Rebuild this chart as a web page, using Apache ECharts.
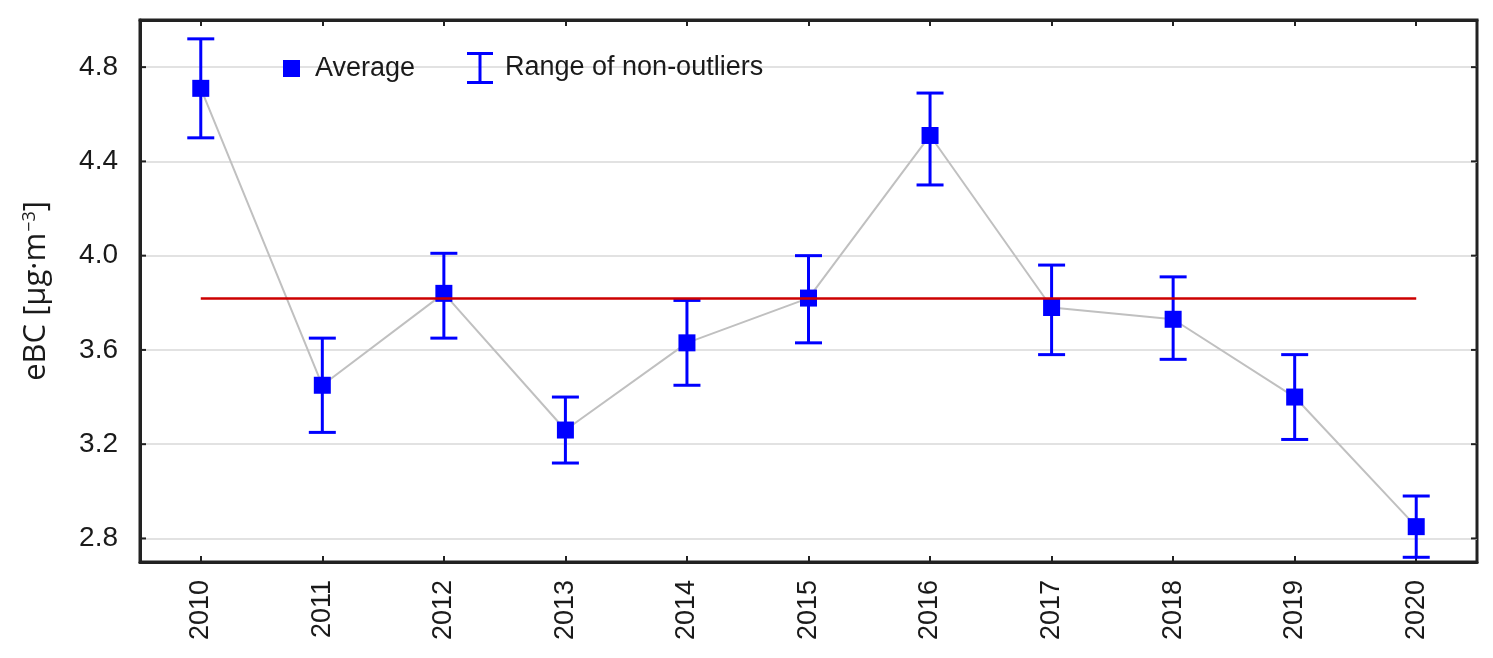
<!DOCTYPE html>
<html>
<head>
<meta charset="utf-8">
<script src="https://cdn.jsdelivr.net/npm/echarts@6/dist/echarts.min.js"></script>
<style>
html,body{margin:0;padding:0;background:#fff;}
#chart{width:1493px;height:658px;}
</style>
</head>
<body>
<div id="chart"></div>
<script>
const YEARS = ['2010','2011','2012','2013','2014','2015','2016','2017','2018','2019','2020'];
const AVG = [4.71, 3.45, 3.84, 3.26, 3.63, 3.82, 4.51, 3.78, 3.73, 3.40, 2.85];
const RANGE_LOW = [4.50, 3.25, 3.65, 3.12, 3.45, 3.63, 4.30, 3.58, 3.56, 3.22, 2.72];
const RANGE_HIGH = [4.92, 3.65, 4.01, 3.40, 3.81, 4.00, 4.69, 3.96, 3.91, 3.58, 2.98];
const OVERALL_MEAN = 3.82;
const Y_TICKS = [2.8, 3.2, 3.6, 4.0, 4.4, 4.8];
const Y_MIN = 2.7, Y_MAX = 5.0, Y_STEP = 0.1;

const isTick = v => Y_TICKS.some(t => Math.abs(t - v) < 1e-6);
const nSteps = Math.round((Y_MAX - Y_MIN) / Y_STEP) + 1;
const splitColors = [];
for (let i = 0; i < nSteps; i++) {
  splitColors.push(isTick(Y_MIN + i * Y_STEP) ? '#e2e2e2' : 'rgba(0,0,0,0)');
}

const FONT = 'Liberation Sans, Arial, sans-serif';
const TXT = '#1a1a1a';
const AX = '#222222';
const BLUE = '#0000ff';

const chart = echarts.init(document.getElementById('chart'), null, {renderer: 'canvas'});

const option = {
  backgroundColor: '#ffffff',
  animation: false,
  grid: {left: 140, right: 16, top: 20, bottom: 96, show: true, borderColor: AX, borderWidth: 3, backgroundColor: 'transparent'},
  legend: [
    {
      data: [{name: 'Average', icon: 'rect'}],
      left: 283, top: 55, padding: 0,
      itemWidth: 17, itemHeight: 17,
      formatter: '{a|{name}}',
      textStyle: {fontFamily: FONT, fontSize: 27, color: TXT, rich: {a: {fontFamily: FONT, fontSize: 27, color: TXT, padding: [0, 0, 0, 10]}}},
      selectedMode: false
    },
    {
      data: [{name: 'Range of non-outliers', icon: 'path://M0,0H26V3H14.5V29H26V32H0V29H11.5V3H0Z'}],
      left: 467, top: 52, padding: 0,
      itemWidth: 26, itemHeight: 32,
      formatter: '{a|{name}}',
      textStyle: {fontFamily: FONT, fontSize: 27, color: TXT, rich: {a: {fontFamily: FONT, fontSize: 27, color: TXT, padding: [0, 0, 0, 7]}}},
      selectedMode: false
    }
  ],
  xAxis: [
    {
      type: 'category', data: YEARS, position: 'bottom',
      axisLine: {show: true, lineStyle: {color: AX, width: 3}},
      axisTick: {show: true, inside: true, alignWithLabel: true, length: 6, lineStyle: {color: AX, width: 2}},
      axisLabel: {rotate: 90, margin: 18, fontFamily: FONT, fontSize: 27, color: TXT},
      splitLine: {show: false}
    },
    {
      type: 'category', data: YEARS, position: 'top',
      axisLine: {show: true, lineStyle: {color: AX, width: 3}},
      axisTick: {show: true, inside: true, alignWithLabel: true, length: 6, lineStyle: {color: AX, width: 2}},
      axisLabel: {show: false},
      splitLine: {show: false}
    }
  ],
  yAxis: {
    type: 'value', min: Y_MIN, max: Y_MAX, interval: Y_STEP,
    name: 'eBC [µg·m{sup|−3}]',
    nameLocation: 'middle', nameRotate: 90, nameGap: 88,
    nameTextStyle: {
      fontFamily: 'Open Sans, sans-serif', fontSize: 31, color: TXT,
      rich: {sup: {fontFamily: 'Open Sans, sans-serif', fontSize: 18, color: TXT, verticalAlign: 'top', padding: [0, 0, 10, 1]}}
    },
    axisLine: {show: true, lineStyle: {color: AX, width: 3}},
    axisTick: {show: false},
    axisLabel: {
      margin: 22, fontFamily: FONT, fontSize: 28, color: TXT,
      formatter: v => isTick(v) ? v.toFixed(1) : ''
    },
    splitLine: {show: true, lineStyle: {color: splitColors, width: 2}}
  },
  series: [
    {
      name: 'Average', type: 'line', data: AVG, z: 3,
      symbol: 'rect', symbolSize: 17,
      itemStyle: {color: BLUE},
      lineStyle: {color: '#c0c0c0', width: 2}
    },
    {
      name: 'Range of non-outliers', type: 'custom', z: 4,
      data: YEARS.map((y, i) => [i, RANGE_LOW[i], RANGE_HIGH[i]]),
      itemStyle: {color: BLUE},
      renderItem: function (params, api) {
        const lo = api.coord([api.value(0), api.value(1)]);
        const hi = api.coord([api.value(0), api.value(2)]);
        const hw = 13.5;
        const st = {stroke: BLUE, lineWidth: 3};
        return {type: 'group', children: [
          {type: 'line', shape: {x1: lo[0], y1: lo[1], x2: hi[0], y2: hi[1]}, style: st},
          {type: 'line', shape: {x1: lo[0] - hw, y1: lo[1], x2: lo[0] + hw, y2: lo[1]}, style: st},
          {type: 'line', shape: {x1: hi[0] - hw, y1: hi[1], x2: hi[0] + hw, y2: hi[1]}, style: st}
        ]};
      }
    },
    {
      name: 'Overall mean', type: 'line', data: [], z: 10,
      markLine: {
        silent: true, symbol: 'none', label: {show: false},
        lineStyle: {color: '#cc0000', width: 2.5, type: 'solid'},
        data: [[{coord: [YEARS[0], OVERALL_MEAN]}, {coord: [YEARS[YEARS.length - 1], OVERALL_MEAN]}]],
        z: 10
      }
    },
    {
      name: 'yTicks', type: 'custom', z: 5, silent: true,
      data: Y_TICKS.map(v => [0, v]),
      renderItem: function (params, api) {
        const p = api.coord([0, api.value(1)]);
        const cs = params.coordSys;
        const st = {stroke: AX, lineWidth: 2};
        return {type: 'group', children: [
          {type: 'line', shape: {x1: cs.x, y1: p[1], x2: cs.x + 6, y2: p[1]}, style: st},
          {type: 'line', shape: {x1: cs.x + cs.width - 6, y1: p[1], x2: cs.x + cs.width, y2: p[1]}, style: st}
        ]};
      }
    }
  ]
};
chart.setOption(option);
</script>
</body>
</html>
